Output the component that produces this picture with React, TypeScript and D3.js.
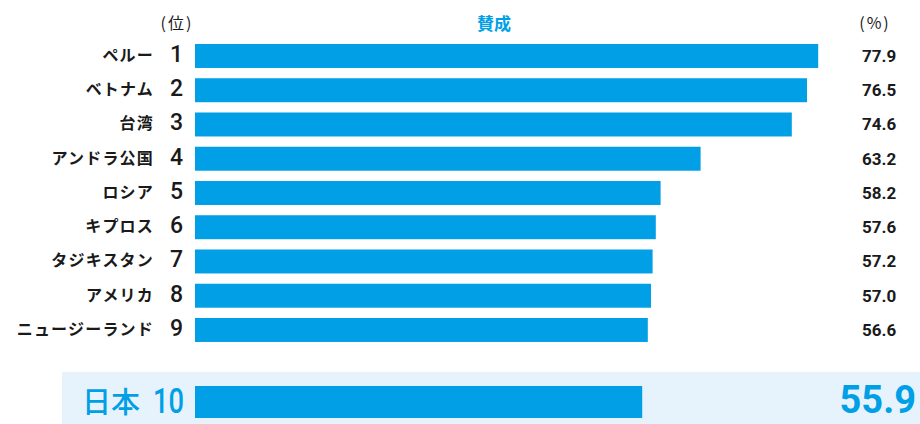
import React from "react";
import * as d3 from "d3";

const countries = ["ペルー", "ベトナム", "台湾", "アンドラ公国", "ロシア", "キプロス", "タジキスタン", "アメリカ", "ニュージーランド"];
const ranks = [1, 2, 3, 4, 5, 6, 7, 8, 9];
const values = [77.9, 76.5, 74.6, 63.2, 58.2, 57.6, 57.2, 57.0, 56.6];
const japanLabel = "日本";
const japanRank = 10;
const japanValue = 55.9;
const seriesName = "賛成";
const rankHeader = "(位)";
const unitHeader = "(%)";

const BLUE = "#009fe6";
const TEXT = "#1a1a1a";
const JP = "'Noto Sans CJK JP', 'Noto Sans', sans-serif";
const NUM = "Roboto, 'Noto Sans', sans-serif";

export default function App() {
  const W = 920, H = 424;
  const x = d3.scaleLinear().domain([0, 100]).range([195, 995]);
  const y = d3.scaleBand<number>().domain(ranks).range([38.86, 347.1]).paddingInner(0.3).paddingOuter(0.15);
  const bw = y.bandwidth();
  return (
    <svg width={W} height={H} style={{ position: "absolute", left: 0, top: 0, background: "#fff" }}>
      <text x={177} y={29} textAnchor="middle" fontFamily={JP} fontSize={16} fill={TEXT} letterSpacing={2}>{rankHeader}</text>
      <text x={875} y={29} textAnchor="middle" fontFamily={JP} fontSize={16} fill={TEXT} letterSpacing={2}>{unitHeader}</text>
      <text x={494} y={30} textAnchor="middle" fontFamily={JP} fontSize={17} fontWeight={700} fill={BLUE}>{seriesName}</text>
      {ranks.map((r, i) => {
        const yy = y(r)!;
        const cy = yy + bw / 2;
        return (
          <g key={r}>
            <rect x={x(0)} y={yy} width={x(values[i]) - x(0)} height={bw} fill={BLUE} />
            <text x={154} y={cy + 5} textAnchor="end" fontFamily={JP} fontSize={16} fontWeight={700} fill={TEXT} letterSpacing={1.2}>{countries[i]}</text>
            <text x={183} y={cy + 6} textAnchor="end" fontFamily={NUM} fontSize={23} fontWeight={500} fill={TEXT}>{r}</text>
            <text x={862} y={cy + 6} textAnchor="start" fontFamily={NUM} fontSize={17} fontWeight={700} fill={TEXT}>{values[i].toFixed(1)}</text>
          </g>
        );
      })}
      <rect x={62} y={372} width={W - 62} height={H - 372} fill="#e6f3fd" />
      <rect x={x(0)} y={386} width={x(japanValue) - x(0)} height={32} fill={BLUE} />
      <text x={82} y={413} fontFamily={JP} fontSize={29} fontWeight={500} fill={BLUE}>{japanLabel}</text>
      <text x={153} y={413} fontFamily={NUM} fontSize={35} fontWeight={500} fill={BLUE} textLength={31} lengthAdjust="spacingAndGlyphs">{japanRank}</text>
      <text x={916} y={413} textAnchor="end" fontFamily={NUM} fontSize={38} fontWeight={700} fill={BLUE}>{japanValue.toFixed(1)}</text>
    </svg>
  );
}
